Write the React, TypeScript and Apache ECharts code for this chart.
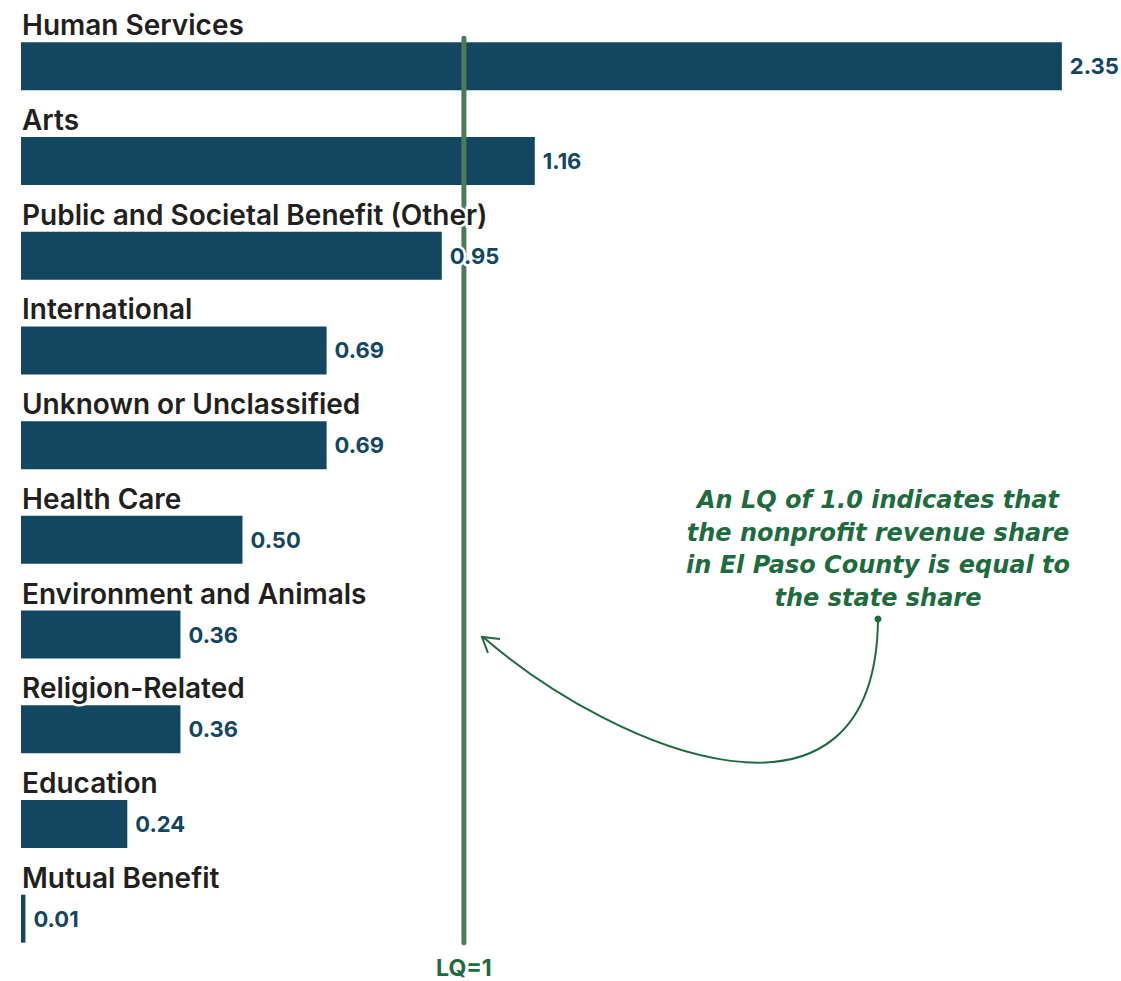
import React, { useEffect, useRef } from "react";
import * as echarts from "echarts";

const categories = [
  "Human Services",
  "Arts",
  "Public and Societal Benefit (Other)",
  "International",
  "Unknown or Unclassified",
  "Health Care",
  "Environment and Animals",
  "Religion-Related",
  "Education",
  "Mutual Benefit",
];
const values = [2.35, 1.16, 0.95, 0.69, 0.69, 0.5, 0.36, 0.36, 0.24, 0.01];
const lqValue = 1;
const lqLabel = "LQ=1";
const noteLines = [
  "An LQ of 1.0 indicates that",
  "the nonprofit revenue share",
  "in El Paso County is equal to",
  "the state share",
];

const BAR = "#12475f";
const GREEN_LINE = "#4b7b5b";
const GREEN_TEXT = "#1d6b3e";
const FONT = "Inter, 'Open Sans', sans-serif";
const NOTE_FONT = "'DejaVu Sans', sans-serif";

export default function App() {
  const ref = useRef<HTMLDivElement>(null);
  useEffect(() => {
    document.body.style.margin = "0";
    const chart = echarts.init(ref.current!, null, { renderer: "svg" });
    chart.setOption({
      animation: false,
      grid: { left: 21, top: 19, width: 1063, height: 947, containLabel: false },
      xAxis: {
        type: "value",
        min: 0,
        max: 2.4,
        show: false,
      },
      yAxis: {
        type: "category",
        data: categories,
        inverse: true,
        axisLine: { show: false },
        axisTick: { show: false },
        splitLine: { show: false },
        axisLabel: { show: false },
      },
      series: [
        {
          type: "bar",
          data: values,
          barWidth: 48,
          z: 2,
          itemStyle: { color: BAR },
        },
        {
          type: "custom",
          z: 3,
          data: [[lqValue, 0]],
          encode: { x: 0, y: 1 },
          renderItem: (params: any, api: any) => {
            const v = api.value(0);
            const top = api.coord([v, 0]);
            const bot = api.coord([v, categories.length - 1]);
            return {
              type: "group",
              children: [
                {
                  type: "line",
                  shape: { x1: top[0], y1: top[1] - 28, x2: bot[0], y2: bot[1] + 24 },
                  style: { stroke: GREEN_LINE, lineWidth: 5, lineCap: "round" },
                },
                {
                  type: "text",
                  x: bot[0],
                  y: bot[1] + 49,
                  style: {
                    text: lqLabel,
                    align: "center",
                    verticalAlign: "middle",
                    fill: GREEN_TEXT,
                    font: `700 23px ${FONT}`,
                  },
                },
              ],
            };
          },
        },
        {
          type: "bar",
          data: values,
          barWidth: 48,
          barGap: "-100%",
          z: 4,
          itemStyle: { color: "transparent" },
          label: {
            show: true,
            position: "right",
            distance: 8,
            fontFamily: FONT,
            fontWeight: 700,
            fontSize: 22,
            color: BAR,
            formatter: (p: any) => p.value.toFixed(2),
            textBorderColor: "#ffffff",
            textBorderWidth: 5,
          },
        },
        {
          type: "bar",
          data: values,
          barWidth: 48,
          barGap: "-100%",
          z: 5,
          itemStyle: { color: "transparent" },
          label: {
            show: true,
            position: [1, -3],
            verticalAlign: "bottom",
            align: "left",
            fontFamily: FONT,
            fontWeight: 600,
            fontSize: 28,
            color: "#231f20",
            formatter: (p: any) => categories[p.dataIndex],
            textBorderColor: "#ffffff",
            textBorderWidth: 5,
          },
        },
      ],
      graphic: [
        {
          type: "text",
          x: 878,
          y: 484,
          z: 10,
          style: {
            text: noteLines.join("\n"),
            fill: GREEN_TEXT,
            font: `italic bold 24px ${NOTE_FONT}`,
            lineHeight: 32.5,
            align: "center",
            verticalAlign: "top",
          },
        },
        {
          type: "bezierCurve",
          z: 10,
          shape: { x1: 878, y1: 620, cpx1: 875, cpy1: 855, cpx2: 620, cpy2: 755, x2: 483, y2: 637 },
          style: { stroke: GREEN_TEXT, lineWidth: 2, fill: null },
        },
        {
          type: "polyline",
          z: 10,
          shape: { points: [[500, 639], [482, 637], [488, 653]] },
          style: { stroke: GREEN_TEXT, lineWidth: 2, fill: null },
        },
        {
          type: "circle",
          z: 10,
          shape: { cx: 878, cy: 619, r: 3.5 },
          style: { fill: GREEN_TEXT },
        },
      ],
    });
    return () => chart.dispose();
  }, []);
  return <div ref={ref} style={{ width: 1121, height: 981 }} />;
}
